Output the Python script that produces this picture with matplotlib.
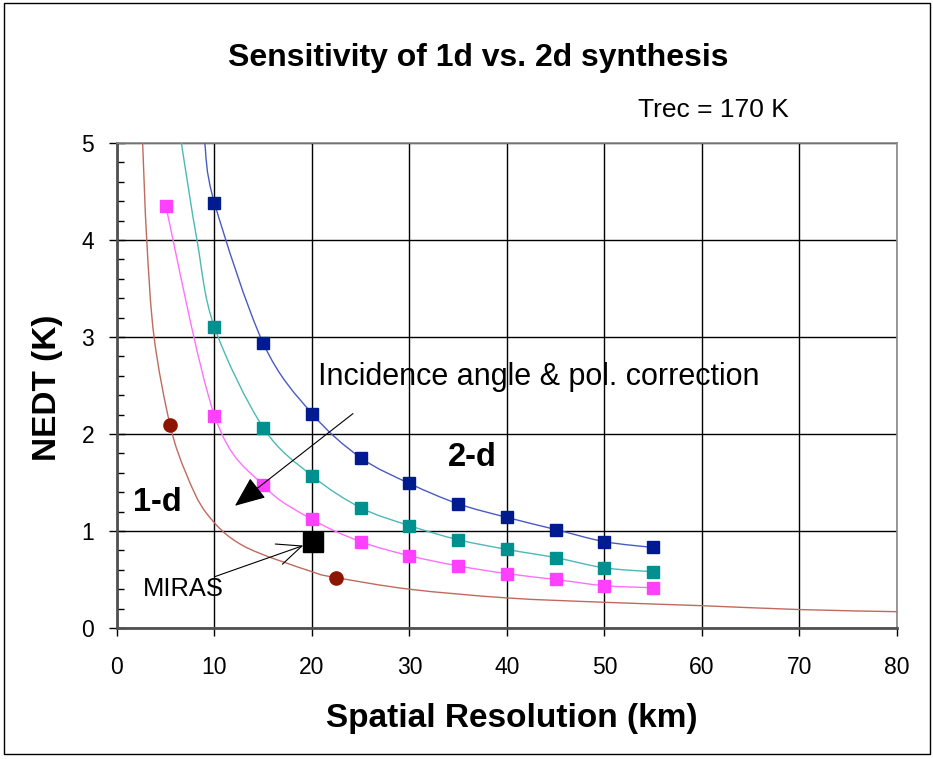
import numpy as np
import matplotlib
matplotlib.use("Agg")
import matplotlib.pyplot as plt
from matplotlib.path import Path
from matplotlib.patches import PathPatch, Rectangle

plt.rcParams['font.family'] = ['Liberation Sans', 'DejaVu Sans']

# marker series
res_x = [10, 15, 20, 25, 30, 35, 40, 45, 50, 55]
navy_y = [4.38, 2.935, 2.21, 1.755, 1.49, 1.28, 1.14, 1.015, 0.89, 0.83]
teal_y = [3.10, 2.065, 1.57, 1.24, 1.055, 0.91, 0.81, 0.725, 0.62, 0.58]
mag_x = [5, 10, 15, 20, 25, 30, 35, 40, 45, 50, 55]
mag_y = [4.35, 2.19, 1.47, 1.12, 0.89, 0.745, 0.64, 0.56, 0.50, 0.436, 0.415]
red_pts_x = [5.45, 22.5]
red_pts_y = [2.09, 0.52]
miras_x, miras_y = 20.1, 0.89

# smooth curves (lines extend past the markers)
red_line_x = [2.63, 3.05, 3.8, 5.45, 7.1, 9.2, 12.9, 20, 22.5, 30, 40, 50, 60, 70, 80]
red_line_y = [5.0, 4.0, 3.0, 2.09, 1.59, 1.18, 0.85, 0.58, 0.52, 0.40, 0.31, 0.265, 0.23, 0.19, 0.168]
teal_line_x = [6.6, 8.2] + res_x
teal_line_y = [5.0, 4.0] + teal_y
navy_line_x = [9.0] + res_x
navy_line_y = [5.0] + navy_y


def smooth_path(x, y):
    # excel-style smoothed line through the points
    pts = np.column_stack([x, y]).astype(float)
    verts = [pts[0]]
    codes = [Path.MOVETO]
    n = len(pts)
    for i in range(n - 1):
        p0 = pts[i - 1] if i > 0 else pts[i]
        p1, p2 = pts[i], pts[i + 1]
        p3 = pts[i + 2] if i + 2 < n else pts[i + 1]
        verts += [p1 + (p2 - p0) / 6, p2 - (p3 - p1) / 6, p2]
        codes += [Path.CURVE4] * 3
    return Path(verts, codes)


fig = plt.figure(figsize=(9.33, 7.59), dpi=100)
ax = fig.add_axes([0.1254, 0.1726, 0.836, 0.639])

ax.set_xlim(0, 80)
ax.set_ylim(0, 5)
ax.set_xticks(range(0, 81, 10))
ax.set_yticks(range(0, 6))
ax.set_yticks(np.arange(0, 5.01, 0.2), minor=True)
ax.grid(True, which='major', color='black', lw=1)
ax.set_axisbelow(True)

for sp in ['left', 'bottom']:
    ax.spines[sp].set_color('#505050')
    ax.spines[sp].set_linewidth(2)
for sp in ['top', 'right']:
    ax.spines[sp].set_color('#8a8a8a')
    ax.spines[sp].set_linewidth(1.2)

ax.tick_params(axis='x', which='major', direction='out', length=6, width=1, labelsize=16.5, pad=14)
ax.tick_params(axis='y', which='major', direction='inout', length=11, width=1, labelsize=16.5, pad=11)
ax.tick_params(axis='y', which='minor', direction='in', length=5, width=1)

for lx, ly, c in [(red_line_x, red_line_y, '#c06a5e'),
                  (mag_x, mag_y, '#ff70ff'),
                  (teal_line_x, teal_line_y, '#4cb8b8'),
                  (navy_line_x, navy_line_y, '#4a5ac4')]:
    ax.add_patch(PathPatch(smooth_path(lx, ly), fill=False, ec=c, lw=1.0, zorder=3))

ax.plot(res_x, navy_y, 's', color='#001a8f', ms=8.5, zorder=4)
ax.plot(res_x, teal_y, 's', color='#009090', ms=8.5, zorder=4)
ax.plot(mag_x, mag_y, 's', color='#ff40ff', ms=8.5, zorder=4)
ax.plot(red_pts_x, red_pts_y, 'o', color='#8e1600', ms=9.5, zorder=4)
ax.plot(miras_x, miras_y, 's', color='black', ms=14, zorder=5)

ax.annotate('', xy=(12.1, 1.26), xytext=(24.2, 2.21),
            arrowprops=dict(arrowstyle='-|>,head_length=0.6,head_width=0.25', mutation_scale=32,
                            color='black', lw=0.8, shrinkA=0, shrinkB=0), zorder=6)
ax.annotate('', xy=(19.1, 0.85), xytext=(10.05, 0.53),
            arrowprops=dict(arrowstyle='->,head_length=0.8,head_width=0.35', mutation_scale=22,
                            color='black', lw=0.8, shrinkA=0, shrinkB=0), zorder=6)

ax.text(20.6, 2.59, 'Incidence angle & pol. correction', fontsize=22, va='center', ha='left', zorder=7)
ax.text(2.67, 0.40, 'MIRAS', fontsize=18.4, va='center', ha='left')
ax.text(1.67, 1.29, '1-d', fontsize=23.5, fontweight='bold', va='center', ha='left')
ax.text(33.95, 1.76, '2-d', fontsize=23.5, fontweight='bold', va='center', ha='left')
ax.text(53.4, 5.34, 'Trec = 170 K', fontsize=19, va='center', ha='left', clip_on=False)

fig.text(0.513, 0.923, 'Sensitivity of 1d vs. 2d synthesis', fontsize=23, fontweight='bold',
         ha='center', va='center')
fig.text(0.548, 0.054, 'Spatial Resolution (km)', fontsize=24, fontweight='bold',
         ha='center', va='center')
fig.text(0.0505, 0.4895, 'NEDT (K)', fontsize=24, fontweight='bold', rotation=90,
         ha='center', va='center')

fig.patches.append(Rectangle((0.004, 0.006), 0.993, 0.99, transform=fig.transFigure,
                             fill=False, ec='black', lw=1))

fig.savefig('out.png', dpi=100)
